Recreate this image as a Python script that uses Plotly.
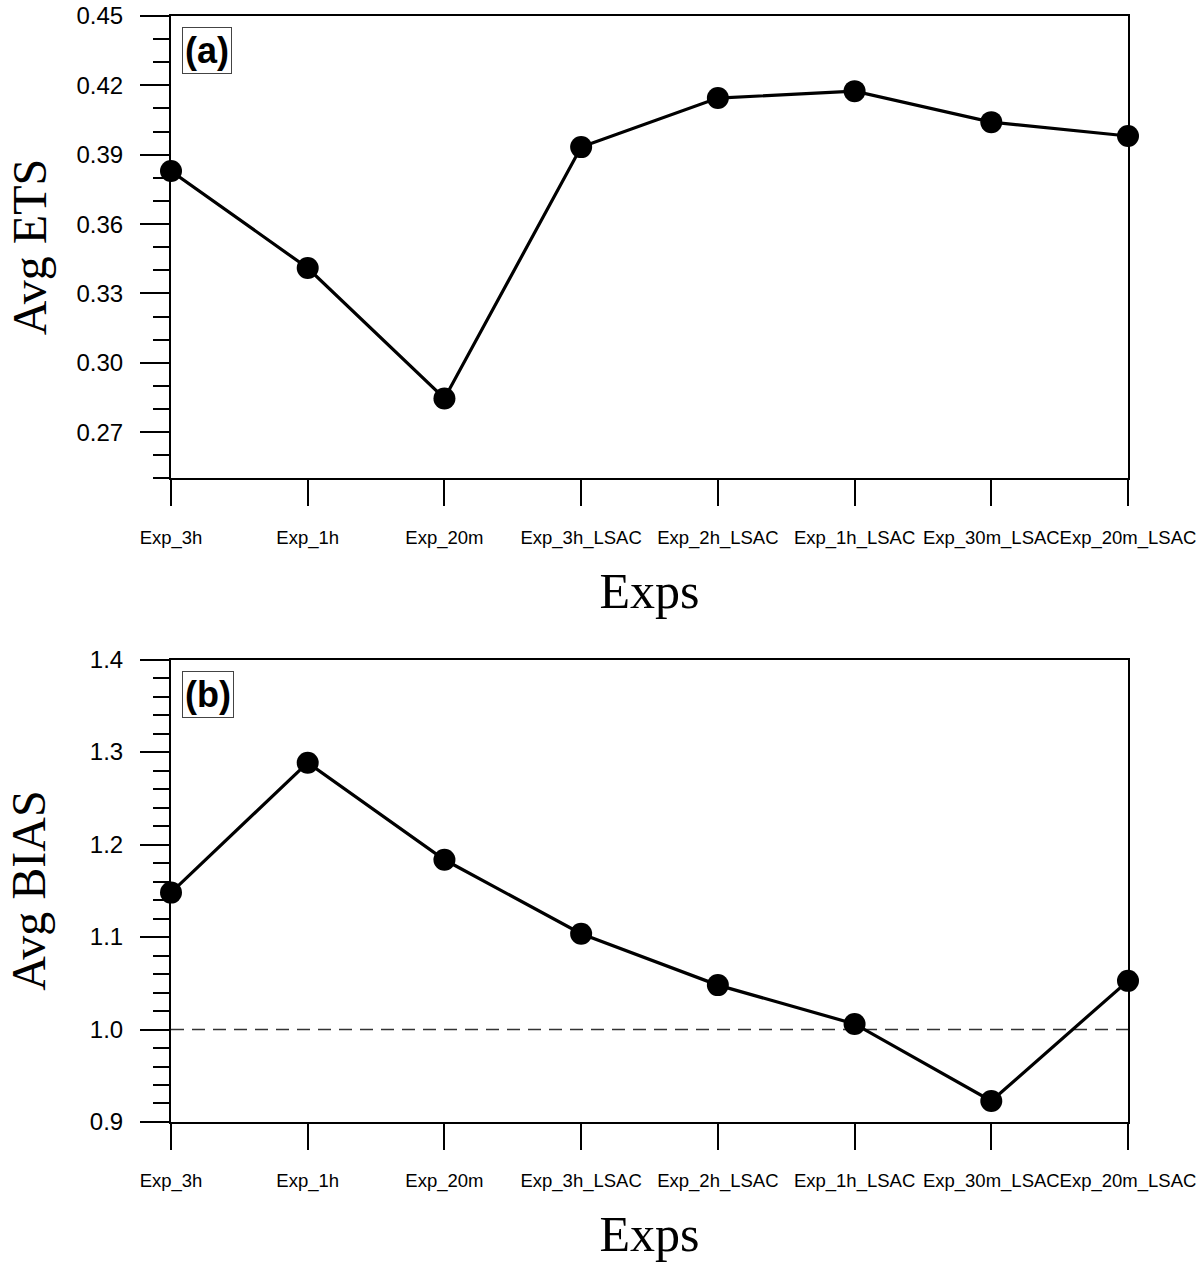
import plotly.graph_objects as go
from plotly.subplots import make_subplots

# experiment names (x categories)
exps = ["Exp_3h", "Exp_1h", "Exp_20m", "Exp_3h_LSAC", "Exp_2h_LSAC",
        "Exp_1h_LSAC", "Exp_30m_LSAC", "Exp_20m_LSAC"]

# panel (a) average ETS
avg_ets = [0.383, 0.341, 0.2846, 0.3933, 0.4145, 0.4175, 0.4041, 0.3981]
ets_ticks = [0.27, 0.30, 0.33, 0.36, 0.39, 0.42, 0.45]

# panel (b) average BIAS
avg_bias = [1.148, 1.2885, 1.1835, 1.1035, 1.048, 1.006, 0.9227, 1.0526]
bias_ticks = [0.9, 1.0, 1.1, 1.2, 1.3, 1.4]
bias_ref = 1.0

x_pos = list(range(len(exps)))

fig = make_subplots(rows=2, cols=1, vertical_spacing=0.1637)

# reference line BIAS = 1 (drawn first so the data line sits on top)
fig.add_trace(go.Scatter(
    x=[x_pos[0], x_pos[-1]], y=[bias_ref, bias_ref], mode="lines",
    line=dict(color="#333333", width=1.5, dash="13px,8px"),
    showlegend=False, hoverinfo="skip"
), row=2, col=1)

for row, vals in [(1, avg_ets), (2, avg_bias)]:
    fig.add_trace(go.Scatter(
        x=x_pos, y=vals, mode="lines+markers",
        line=dict(color="black", width=3.2),
        marker=dict(color="black", size=22),
        cliponaxis=False, showlegend=False
    ), row=row, col=1)

xax = dict(
    range=[x_pos[0], x_pos[-1]], tickvals=x_pos, ticktext=exps, tickangle=0,
    ticks="outside", ticklen=26, tickwidth=2, tickcolor="black",
    showline=True, linewidth=2, linecolor="black", mirror=True,
    showgrid=False, zeroline=False, ticklabelstandoff=15, automargin=False,
    ticklabeloverflow="allow",
    tickfont=dict(family="Liberation Sans", size=18.5, color="black"),
    title=dict(text="Exps", standoff=25,
               font=dict(family="Liberation Serif", size=50, color="black")),
)
yax = dict(
    ticks="outside", ticklen=29, tickwidth=2, tickcolor="black",
    showline=True, linewidth=2, linecolor="black", mirror=True,
    showgrid=False, zeroline=False, ticklabelstandoff=12, automargin=False,
    ticklabeloverflow="allow",
    tickfont=dict(family="Liberation Sans", size=24, color="black"),
)

fig.update_xaxes(**xax)
fig.update_yaxes(**yax)
fig.update_yaxes(range=[0.25, 0.45], tickvals=ets_ticks, tickformat=".2f",
                 minor=dict(dtick=0.01, tick0=0.25, ticks="outside", ticklen=16,
                            tickwidth=1.5, tickcolor="black"),
                 row=1, col=1)
fig.update_yaxes(range=[0.9, 1.4], tickvals=bias_ticks, tickformat=".1f",
                 minor=dict(dtick=0.02, tick0=0.9, ticks="outside", ticklen=16,
                            tickwidth=1.5, tickcolor="black"),
                 row=2, col=1)

# y titles as rotated annotations so they can sit close to the page edge
for title, yref in [("Avg ETS", "y domain"), ("Avg BIAS", "y2 domain")]:
    fig.add_annotation(
        text=title, xref="paper", yref=yref, x=0, y=0.5, xshift=-142,
        xanchor="center", yanchor="middle", textangle=-90, showarrow=False,
        font=dict(family="Liberation Serif", size=48, color="black")
    )

# panel labels
for label, xref, yref in [("(a)", "x domain", "y domain"), ("(b)", "x2 domain", "y2 domain")]:
    fig.add_annotation(
        text="<b>" + label + "</b>", xref=xref, yref=yref, x=0.0115, y=0.976,
        xanchor="left", yanchor="top", showarrow=False,
        font=dict(family="Liberation Sans", size=36, color="black"),
        bordercolor="#444444", borderwidth=1, borderpad=2, bgcolor="white"
    )

fig.update_layout(
    width=1200, height=1265,
    margin=dict(l=171, r=72, t=16, b=143),
    plot_bgcolor="white", paper_bgcolor="white",
)

# drop the default page margin so the figure fills the window
fig.write_html("out.html", config={"displayModeBar": False},
               post_script="document.body.style.margin='0px';")
